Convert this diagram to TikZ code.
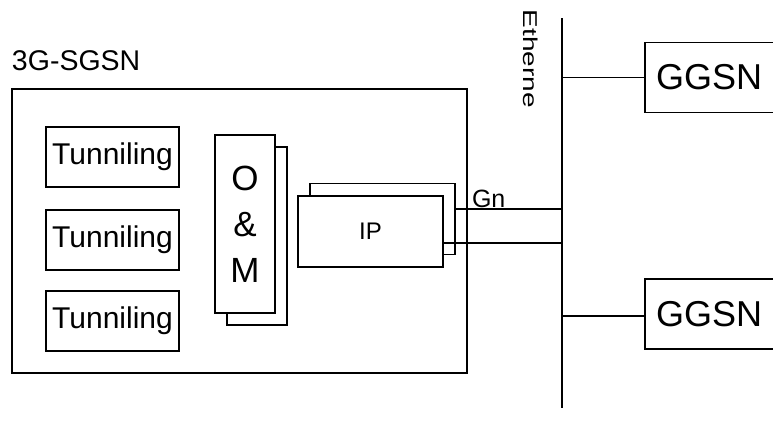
\documentclass[tikz,border=0pt]{standalone}
\usepackage{fontspec}
\setmainfont{Liberation Sans}
\usepackage{graphicx}
\usepackage{tikz}
\usetikzlibrary{positioning}

\begin{document}
\begin{tikzpicture}[x=1pt, y=-1pt, line width=1.3pt,
    every node/.style={inner sep=0pt, outer sep=0pt},
    tunbox/.style={draw, minimum width=133pt, minimum height=60pt, font=\fontsize{30}{30}\selectfont},
    ombox/.style={draw, fill=white, minimum width=60pt, minimum height=178pt},
    ipbox/.style={draw, fill=white, minimum width=145pt, minimum height=71pt},
    ggsnbox/.style={draw, anchor=west, minimum height=70pt, text width=150pt, align=left, inner xsep=11pt, font=\fontsize{36}{36}\selectfont}]
    \clip (0,0) rectangle (773,434);
    \useasboundingbox (0,0) rectangle (773,434);
    % 3G-SGSN
    \node[draw, minimum width=455pt, minimum height=284pt] (sgsn) at (239.5,231) {};
    \node[anchor=base west, font=\fontsize{28.5}{28.5}\selectfont] (sgsnlabel) at (12,70) {3G-SGSN};
    \node[tunbox] (tun1) at (112.5,157) {Tunniling};
    \node[tunbox, below=23pt of tun1] (tun2) {Tunniling};
    \node[tunbox, below=21pt of tun2] (tun3) {Tunniling};
    \node[ombox] (omback) at (257,236) {};
    \node[ombox, align=center, font=\fontsize{35}{46}\selectfont] (om) at (245,224) {O\\\&\\M};
    \node[ipbox] (ipback) at (382.5,219) {};
    \node[ipbox, font=\fontsize{24}{24}\selectfont] (ip) at (370.5,231.5) {IP};
    % Ethernet
    \coordinate (ethtop) at (562,18);
    \coordinate (ethbot) at (562,408);
    \draw (ethtop) -- (ethbot);
    \node[rotate=-90, font=\fontsize{20}{20}\selectfont] (ethlabel) at (531,59) {\scalebox{1.4}[1]{Etherne}};
    \node[ggsnbox] (ggsn1) at (645,77.5) {GGSN};
    \node[ggsnbox] (ggsn2) at (645,314) {GGSN};
    \draw (ggsn1.west) -- (ggsn1.west -| ethtop);
    \draw ([yshift=-2pt]ggsn2.west) -- ([yshift=-2pt]ggsn2.west -| ethtop);
    % Gn
    \draw ([yshift=10pt]ipback.east) -- ([yshift=10pt]ipback.east -| ethtop);
    \draw ([yshift=-11.5pt]ip.east) -- ([yshift=-11.5pt]ip.east -| ethtop);
    \node[anchor=base west, font=\fontsize{25}{25}\selectfont] (gn) at (472,207) {Gn};
\end{tikzpicture}
\end{document}
